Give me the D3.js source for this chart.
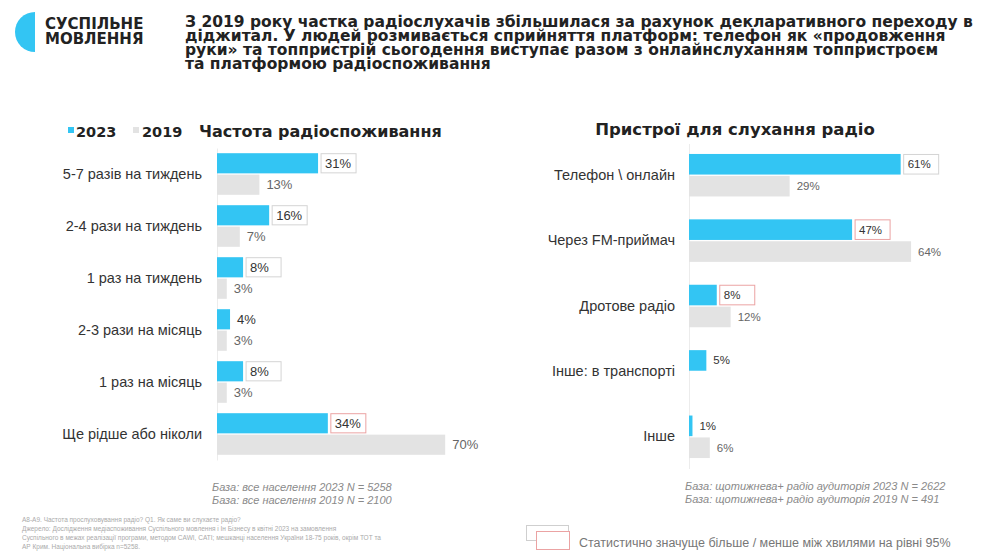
<!DOCTYPE html>
<html>
<head>
<meta charset="utf-8">
<script src="https://cdn.jsdelivr.net/npm/d3@7"></script>
<style>
  body { margin: 0; background: #fff; }
  text { font-family: "Liberation Sans", Arial, sans-serif; }
  .bold { font-family: "DejaVu Sans", sans-serif; font-weight: bold; }
</style>
</head>
<body>
<svg id="chart" width="993" height="556"></svg>
<script>
// header texts
const headLines = [
  "З 2019 року частка радіослухачів збільшилася за рахунок декларативного переходу в",
  "діджитал. У людей розмивається сприйняття платформ: телефон як «продовження",
  "руки» та топпристрій сьогодення виступає разом з онлайнслуханням топпристроєм",
  "та платформою радіоспоживання"
];
const years = ["2023", "2019"];

// left chart: frequency of radio listening
const freqCats = ["5-7 разів на тиждень", "2-4 рази на тиждень", "1 раз на тиждень",
                  "2-3 рази на місяць", "1 раз на місяць", "Ще рідше або ніколи"];
const freq2023 = [31, 16, 8, 4, 8, 34];
const freq2019 = [13, 7, 3, 3, 3, 70];
// "ns" = tested, not significant; "sig" = significant; "" = no mark
const freqSig = ["ns", "ns", "ns", "", "ns", "sig"];

// right chart: devices
const devCats = ["Телефон \\ онлайн", "Через FM-приймач", "Дротове радіо", "Інше: в транспорті", "Інше"];
const dev2023 = [61, 47, 8, 5, 1];
const dev2019 = [29, 64, 12, null, 6];
const devSig = ["ns", "sig", "sig", "", ""];

const BLUE = "#33c5f3", GREY = "#e3e3e3";

const svg = d3.select("#chart");

// logo
svg.append("path")
  .attr("d", "M35,12 A20,20 0 0 0 35,52 Z")
  .attr("fill", BLUE);
svg.append("text").attr("class", "bold").attr("x", 45).attr("y", 29).attr("font-size", 15)
  .attr("fill", "#222").text("СУСПІЛЬНЕ");
svg.append("text").attr("class", "bold").attr("x", 45).attr("y", 44).attr("font-size", 15)
  .attr("fill", "#222").text("МОВЛЕННЯ");

// heading
svg.append("g").selectAll("text")
  .data(headLines)
  .join("text")
  .attr("class", "bold")
  .attr("x", 185)
  .attr("y", (d, i) => 27 + i * 14)
  .attr("font-size", 15.5)
  .attr("fill", "#222")
  .text(d => d);

function drawChart(opts) {
  const g = svg.append("g");

  const x = d3.scaleLinear().domain([0, 100]).range([opts.x0, opts.x0 + opts.pxPer100]);
  const y0 = d3.scaleBand().domain(opts.cats).range(opts.yRange)
    .paddingInner(opts.padIn).paddingOuter(opts.padOut);
  const y1 = d3.scaleBand().domain(years).range([0, y0.bandwidth()]).paddingInner(0.06);

  const rows = opts.cats.map((c, i) => ({ cat: c, v2023: opts.v2023[i], v2019: opts.v2019[i], sig: opts.sig[i] }));

  // category axis
  const axis = g.append("g")
    .attr("transform", `translate(${opts.x0},0)`)
    .call(d3.axisLeft(y0).tickSize(0).tickPadding(opts.labelPad));
  axis.select(".domain").attr("stroke", "#ececec");
  axis.selectAll("text")
    .attr("font-size", opts.catSize)
    .attr("fill", "#333")
    .style("font-family", "'Liberation Sans', Arial, sans-serif");

  const row = g.selectAll(".row").data(rows).join("g")
    .attr("class", "row")
    .attr("transform", d => `translate(0,${y0(d.cat)})`);

  // 2023 bars
  row.append("rect")
    .attr("x", x(0))
    .attr("y", y1("2023"))
    .attr("width", d => x(d.v2023) - x(0))
    .attr("height", y1.bandwidth())
    .attr("fill", BLUE);

  // 2019 bars
  row.filter(d => d.v2019 != null).append("rect")
    .attr("x", x(0))
    .attr("y", y1("2019"))
    .attr("width", d => x(d.v2019) - x(0))
    .attr("height", y1.bandwidth())
    .attr("fill", GREY);

  // boxes around 2023 values
  row.filter(d => d.sig).append("rect")
    .attr("x", d => x(d.v2023) + 3)
    .attr("y", y1("2023") + 0.5)
    .attr("width", opts.boxW)
    .attr("height", y1.bandwidth() - 1)
    .attr("fill", "#fff")
    .attr("stroke", d => d.sig === "sig" ? "#eba3a3" : "#d4d4d4")
    .attr("stroke-width", 1);

  row.append("text")
    .attr("x", d => x(d.v2023) + 7)
    .attr("y", y1("2023") + y1.bandwidth() / 2)
    .attr("dy", "0.35em")
    .attr("font-size", opts.valSize)
    .attr("fill", "#333")
    .text(d => d.v2023 + "%");

  row.filter(d => d.v2019 != null).append("text")
    .attr("x", d => x(d.v2019) + 7)
    .attr("y", y1("2019") + y1.bandwidth() / 2)
    .attr("dy", "0.35em")
    .attr("font-size", opts.valSize)
    .attr("fill", "#666")
    .text(d => d.v2019 + "%");

  // base notes
  g.selectAll(".base").data(opts.notes).join("text")
    .attr("x", opts.noteX)
    .attr("y", (d, i) => opts.noteY + i * 13)
    .attr("font-size", 11)
    .attr("font-style", "italic")
    .attr("fill", "#8a8a8a")
    .text(d => d);
}

drawChart({
  cats: freqCats, v2023: freq2023, v2019: freq2019, sig: freqSig,
  x0: 217, pxPer100: 326, yRange: [148, 460], padIn: 0.2, padOut: 0.1,
  labelPad: 15, catSize: 14.5, valSize: 13, boxW: 35,
  notes: ["База: все населення 2023 N = 5258", "База: все населення 2019 N = 2100"],
  noteX: 212, noteY: 491
});

drawChart({
  cats: devCats, v2023: dev2023, v2019: dev2019, sig: devSig,
  x0: 689, pxPer100: 347, yRange: [143.5, 468.5], padIn: 0.35, padOut: 0.16,
  labelPad: 14, catSize: 14.5, valSize: 11.5, boxW: 35,
  notes: ["База: щотижнева+ радіо аудиторія 2023 N = 2622", "База: щотижнева+ радіо аудиторія 2019 N = 491"],
  noteX: 685, noteY: 490
});

// left legend + title
const leg = svg.append("g");
leg.append("rect").attr("x", 68).attr("y", 127).attr("width", 6).attr("height", 6).attr("fill", BLUE);
leg.append("text").attr("class", "bold").attr("x", 76).attr("y", 137).attr("font-size", 14.5)
  .attr("fill", "#222").text(years[0]);
leg.append("rect").attr("x", 133).attr("y", 127).attr("width", 6).attr("height", 6).attr("fill", GREY);
leg.append("text").attr("class", "bold").attr("x", 142).attr("y", 137).attr("font-size", 14.5)
  .attr("fill", "#222").text(years[1]);
svg.append("text").attr("class", "bold").attr("x", 199).attr("y", 137).attr("font-size", 16)
  .attr("fill", "#222").text("Частота радіоспоживання");
svg.append("text").attr("class", "bold").attr("x", 735).attr("y", 135).attr("text-anchor", "middle")
  .attr("font-size", 16.5)
  .attr("fill", "#222").text("Пристрої для слухання радіо");

// footnotes
const foot = [
  "А8-А9. Частота прослуховування радіо? Q1. Як саме ви слухаєте радіо?",
  "Джерело: Дослідження медіаспоживання Суспільного мовлення і Ін Бізнесу в квітні 2023 на замовлення",
  "Суспільного в межах реалізації програми, методом CAWI, CATI; мешканці населення України 18-75 років, окрім ТОТ та",
  "АР Крим. Національна вибірка n=5258."
];
svg.append("g").selectAll("text").data(foot).join("text")
  .attr("x", 22)
  .attr("y", (d, i) => 522 + i * 9)
  .attr("font-size", 6.5)
  .attr("fill", "#aaa")
  .text(d => d);

// significance legend
svg.append("rect").attr("x", 526.5).attr("y", 525.5).attr("width", 42).attr("height", 15)
  .attr("fill", "#fff").attr("stroke", "#cfcfcf");
svg.append("rect").attr("x", 536.5).attr("y", 531.5).attr("width", 33).attr("height", 18)
  .attr("fill", "#fff").attr("stroke", "#eba3a3");
svg.append("text").attr("x", 579).attr("y", 547).attr("font-size", 12.5)
  .attr("fill", "#777").text("Статистично значуще більше / менше між хвилями на рівні 95%");
</script>
</body>
</html>
